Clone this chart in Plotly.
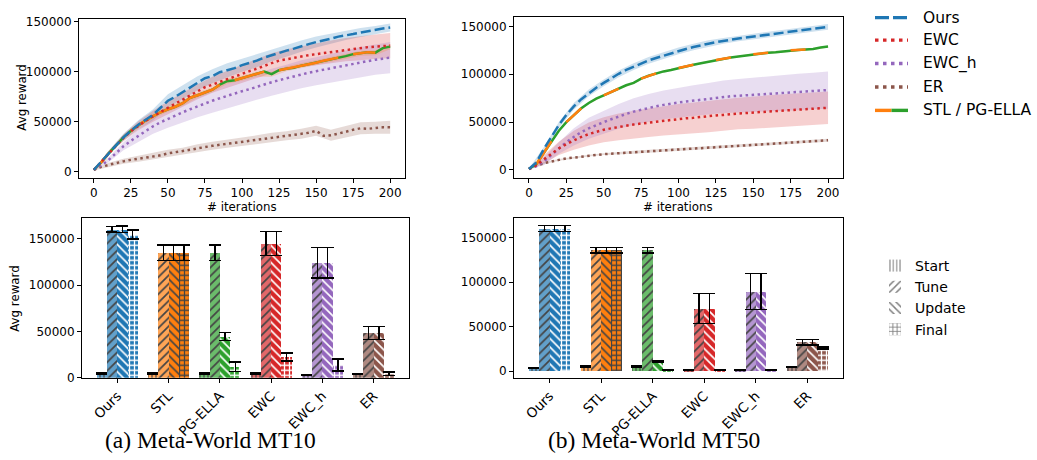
import plotly.graph_objects as go

# ---------------- data ----------------
iters = list(range(0, 201, 5))
band_iters = list(range(0, 201, 10))

# Meta-World MT10 learning curves (avg reward), every 5 iterations
mt10_ours = [2000, 10000, 19000, 27000, 34500, 41000, 47000, 52000, 57000, 64000, 71000,
             75000, 79500, 84000, 88500, 93500, 95500, 99500, 101500, 103500, 106500,
             108500, 111000, 114000, 116500, 119000, 121000, 123000, 125500, 127500, 129500,
             131000, 133000, 135000, 136000, 137500, 139000, 140500, 141500, 143000, 144000]
mt10_ewc = [2000, 10000, 19000, 27000, 34000, 40500, 46000, 51000, 55500, 60000, 64000,
            68000, 72000, 76000, 80000, 84500, 87000, 90000, 92500, 95000, 98000,
            100500, 103000, 106000, 108500, 111000, 112500, 114000, 115000, 116500, 117500,
            118500, 120000, 121000, 122000, 122500, 123500, 124500, 125000, 125500, 126000]
mt10_ewch = [2000, 6500, 12000, 19000, 25500, 31000, 36000, 41000, 45500, 49500, 53000,
             56500, 59500, 62500, 65500, 68500, 71000, 73500, 76000, 78500, 80500,
             82500, 85000, 87500, 89500, 91500, 93500, 95500, 97500, 99000, 100500,
             102000, 103500, 105000, 106500, 108000, 109500, 110500, 112000, 113000, 114000]
mt10_er = [2000, 5000, 7000, 9000, 10500, 12000, 13000, 14500, 15500, 16500, 18500,
           19500, 20500, 22000, 23500, 25000, 26000, 27000, 28000, 29000, 30000,
           31000, 32000, 33500, 34500, 35000, 36000, 37000, 38000, 39000, 41000,
           36000, 36500, 38000, 40000, 42000, 43500, 43000, 44000, 44500, 44500]
mt10_stl = [2000, 9500, 18500, 27000, 34500, 41000, 46500, 51500, 55500, 59500, 62500,
            65000, 68500, 74000, 76500, 79500, 82000, 87000, 90500, 91500, 93500,
            95500, 97500, 100000, 97500, 101500, 103000, 104000, 106000, 107500, 109000,
            111000, 112500, 114000, 115500, 117500, 118500, 119500, 119000, 123500, 125000]

mt10_ours_sd = [500, 2000, 3500, 4500, 5500, 6500, 7000, 7000, 7000, 7000, 6500,
                6500, 6000, 6000, 5500, 5500, 5000, 4500, 4500, 4000, 4000]
mt10_ewc_sd = [500, 2000, 3500, 4500, 5500, 6500, 7000, 7500, 8000, 8500, 9000,
               9500, 10000, 10000, 10500, 11000, 11000, 11500, 12000, 12000, 12500]
mt10_ewch_sd = [500, 2500, 4000, 6000, 7500, 9000, 10000, 11000, 12000, 12500, 13000,
                13000, 13500, 13500, 14000, 14000, 14500, 14500, 15000, 15000, 15500]
mt10_er_sd = [500, 2000, 2500, 3000, 3000, 3500, 3500, 4000, 4000, 4000, 4000,
              4500, 4500, 4500, 5000, 5000, 5500, 5500, 6000, 6000, 6500]
mt10_stl_sd = [500, 1500, 2000, 2000, 2500, 2500, 2500, 2500, 2500, 2500, 2500,
               2500, 2500, 2500, 2500, 2500, 2500, 2500, 2500, 2500, 2500]

# Meta-World MT50 learning curves
mt50_ours = [1000, 8000, 22000, 35000, 47000, 57500, 66500, 74000, 80500, 86000, 91000,
             96000, 100500, 104500, 108000, 111500, 114500, 117000, 119500, 122000, 124500,
             126500, 128500, 130500, 132000, 133500, 135000, 136500, 137500, 138500, 139500,
             140500, 141500, 142500, 143500, 144500, 145500, 146500, 147500, 148500, 149500]
mt50_ewc = [1000, 5000, 11000, 17000, 22500, 27000, 31000, 34500, 37500, 40000, 42000,
            43500, 45000, 46500, 47500, 48500, 49500, 50500, 51500, 52500, 53000,
            54000, 54500, 55500, 56000, 57000, 57500, 58500, 59000, 59500, 60000,
            60500, 61000, 61500, 62000, 62500, 63000, 63500, 64000, 64500, 65000]
mt50_ewch = [1000, 4000, 9000, 16000, 23000, 29000, 34500, 39500, 43500, 47000, 50000,
             53000, 56000, 58500, 61000, 63000, 65000, 66500, 68000, 69500, 70500,
             71500, 72500, 73500, 74500, 75500, 76500, 77000, 77500, 78000, 78500,
             79000, 79500, 80000, 80500, 81000, 81500, 82000, 82500, 83000, 83500]
mt50_er = [1000, 4500, 7000, 9000, 10500, 12000, 13000, 14000, 15000, 15500, 16500,
           17000, 17500, 18000, 18500, 19000, 19500, 20000, 20500, 21000, 21500,
           22000, 22500, 23000, 23500, 24000, 24500, 25000, 25500, 26000, 26500,
           27000, 27500, 28000, 28500, 29000, 29500, 30000, 30000, 30500, 31000]
mt50_stl = [1000, 6000, 18000, 30000, 41000, 50000, 57500, 64500, 70000, 74500, 78000,
            81500, 85000, 88500, 91000, 95500, 98500, 101000, 103000, 104500, 106500,
            108500, 110000, 111500, 113000, 115000, 116500, 117500, 118500, 119500, 121000,
            122000, 122500, 123000, 124000, 125000, 125500, 126000, 126500, 128000, 129000]

mt50_ours_sd = [500, 2000, 3000, 3500, 3500, 3500, 3500, 3500, 3500, 3500, 3500,
                3500, 3500, 3000, 3000, 3000, 3000, 3000, 3000, 3000, 3000]
mt50_ewc_sd = [500, 4000, 7000, 10000, 12000, 13000, 14000, 14500, 15000, 15500, 16000,
               16000, 16500, 16500, 16500, 17000, 17000, 17000, 17000, 17000, 17000]
mt50_ewch_sd = [500, 4000, 6000, 9000, 11000, 12000, 13000, 14000, 14500, 15000, 15500,
                16000, 16500, 17000, 17500, 18000, 18500, 18500, 19000, 19000, 19500]
mt50_er_sd = [300, 1000, 1000, 1000, 1000, 1000, 1500, 1500, 1500, 1500, 1500,
              1500, 1500, 1500, 1500, 1500, 1500, 1500, 1500, 1500, 1500]
mt50_stl_sd = [300, 1000, 1000, 1000, 1000, 1000, 1000, 1000, 1000, 1000, 1000,
               1000, 1000, 1000, 1000, 1000, 1000, 1000, 1000, 1000, 1000]

# iteration ranges where the STL (orange) curve is drawn above PG-ELLA (green)
mt10_stl_on_top = [(0, 10), (25, 40), (45, 60), (65, 85), (95, 115), (125, 145), (150, 165), (175, 190)]
mt50_stl_on_top = [(5, 15), (25, 35), (50, 60), (75, 85), (100, 110), (125, 135), (150, 160), (175, 185)]

# Bar-chart data
methods = ["Ours", "STL", "PG-ELLA", "EWC", "EWC_h", "ER"]
phases = ["Start", "Tune", "Update", "Final"]

mt10_start = [5000, 5000, 5000, 5000, 3000, 4000]
mt10_start_err = [600, 600, 600, 600, 600, 600]
mt10_tune = [160000, 135000, 135000, 145000, 124000, 48500]
mt10_tune_err = [3000, 8500, 8500, 13000, 16500, 7000]
mt10_update = [160000, 135000, 44500, 145000, 124000, 48500]
mt10_update_err = [3500, 8500, 4500, 13000, 16500, 7000]
mt10_final = [154500, 135000, 12000, 22500, 14000, 4500]
mt10_final_err = [5000, 8500, 5000, 4500, 6500, 2000]

mt50_start = [3000, 5000, 5000, 1500, 1000, 4500]
mt50_start_err = [400, 400, 400, 400, 400, 400]
mt50_tune = [160500, 136000, 136000, 70500, 89500, 32500]
mt50_tune_err = [3500, 3000, 3000, 17000, 20500, 3000]
mt50_update = [160500, 136000, 11000, 70500, 89500, 32500]
mt50_update_err = [3500, 3000, 1000, 17000, 20500, 3000]
mt50_final = [160500, 136000, 700, 700, 700, 26000]
mt50_final_err = [3500, 3000, 400, 400, 400, 1000]

# ---------------- styling ----------------
W, H = 1037, 460
C = {"blue": (31, 119, 180), "orange": (255, 127, 14), "green": (44, 160, 44),
     "red": (214, 39, 40), "purple": (148, 103, 189), "brown": (140, 86, 75)}
method_colors = ["blue", "orange", "green", "red", "purple", "brown"]


def rgba(name, a=1.0):
    r, g, b = C[name]
    return f"rgba({r},{g},{b},{a})"


def light(name, a):
    r, g, b = C[name]
    f = lambda v: round(v * a + 255 * (1 - a))
    return f"rgb({f(r)},{f(g)},{f(b)})"


def px(x):
    return x / W


def py(y):
    return 1 - y / H


FONT = "DejaVu Sans"
TICKF = dict(family=FONT, size=12, color="black")
CATF = dict(family=FONT, size=13.5, color="black")
DOT = "2.5px,3.5px"
DASH = "10px,4px"

fig = go.Figure()


def add_band(xa, ya, mean, sd, color):
    m = mean[::2]
    up = [a + b for a, b in zip(m, sd)]
    lo = [a - b for a, b in zip(m, sd)]
    fig.add_trace(go.Scatter(x=band_iters, y=up, mode="lines", line=dict(width=0),
                             xaxis=xa, yaxis=ya, showlegend=False, hoverinfo="skip"))
    fig.add_trace(go.Scatter(x=band_iters, y=lo, mode="lines", line=dict(width=0),
                             fill="tonexty", fillcolor=rgba(color, 0.22),
                             xaxis=xa, yaxis=ya, showlegend=False, hoverinfo="skip"))


def add_line(xa, ya, y, color, dash=None, width=2.5):
    fig.add_trace(go.Scatter(x=iters, y=y, mode="lines",
                             line=dict(color=rgba(color), width=width, dash=dash),
                             connectgaps=False, xaxis=xa, yaxis=ya, showlegend=False,
                             hoverinfo="skip"))


def masked(vals, ranges):
    return [v if any(a <= it <= b for a, b in ranges) else None for it, v in zip(iters, vals)]


def curve_panel(xa, ya, ours, ewc, ewch, er, stl, sds, on_top):
    ours_sd, ewc_sd, ewch_sd, er_sd, stl_sd = sds
    add_band(xa, ya, ours, ours_sd, "blue")
    add_band(xa, ya, ewc, ewc_sd, "red")
    add_band(xa, ya, ewch, ewch_sd, "purple")
    add_band(xa, ya, er, er_sd, "brown")
    add_band(xa, ya, stl, stl_sd, "orange")
    add_line(xa, ya, er, "brown", DOT)
    add_line(xa, ya, ewch, "purple", DOT)
    add_line(xa, ya, stl, "green")
    add_line(xa, ya, masked(stl, on_top), "orange")
    add_line(xa, ya, ewc, "red", DOT)
    add_line(xa, ya, ours, "blue", DASH)


curve_panel("x", "y", mt10_ours, mt10_ewc, mt10_ewch, mt10_er, mt10_stl,
            (mt10_ours_sd, mt10_ewc_sd, mt10_ewch_sd, mt10_er_sd, mt10_stl_sd), mt10_stl_on_top)
curve_panel("x2", "y2", mt50_ours, mt50_ewc, mt50_ewch, mt50_er, mt50_stl,
            (mt50_ours_sd, mt50_ewc_sd, mt50_ewch_sd, mt50_er_sd, mt50_stl_sd), mt50_stl_on_top)

# bars
offsets = [-0.3, -0.1, 0.1, 0.3]
shapes_ = ["|", "/", "\\", "+"]
sizes_ = [4, 6, 6, 5]
solid_ = [0.3, 0.28, 0.28, 0.45]
alphas = [0.7, 0.7, 1.0, 1.0]


def bar_panel(xa, ya, vals, errs):
    n = len(methods)
    for k in range(4):
        cols = [light(c, alphas[k]) for c in method_colors]
        fig.add_trace(go.Bar(
            x=[i + offsets[k] for i in range(n)], y=vals[k], width=0.2,
            marker=dict(color=cols, line=dict(width=0),
                        pattern=dict(shape=[shapes_[k]] * n, fgcolor=["black"] * n,
                                     bgcolor=cols, fgopacity=1,
                                     size=[sizes_[k]] * n, solidity=[solid_[k]] * n)),
            error_y=dict(type="data", array=errs[k], visible=True, color="black",
                         thickness=1.5, width=6),
            xaxis=xa, yaxis=ya, showlegend=False, hoverinfo="skip"))


bar_panel("x3", "y3", [mt10_start, mt10_tune, mt10_update, mt10_final],
          [mt10_start_err, mt10_tune_err, mt10_update_err, mt10_final_err])
bar_panel("x4", "y4", [mt50_start, mt50_tune, mt50_update, mt50_final],
          [mt50_start_err, mt50_tune_err, mt50_update_err, mt50_final_err])

# pattern legend entries (white background, black hatch)
leg_sizes = [4.2, 6.2, 6.2, 5.2]
leg_solid = [0.31, 0.29, 0.29, 0.41]
for k, name in enumerate(phases):
    fig.add_trace(go.Bar(x=[None], y=[None], name=name, legend="legend2",
                         marker=dict(color="white", line=dict(width=0),
                                     pattern=dict(shape=shapes_[k], fgcolor="black",
                                                  bgcolor="white", size=leg_sizes[k],
                                                  solidity=leg_solid[k])),
                         xaxis="x3", yaxis="y3", showlegend=True))

# ---------------- axes ----------------
common = dict(showline=True, linecolor="black", linewidth=1, mirror=True, ticks="outside",
              ticklen=4, tickwidth=1, tickcolor="black", showgrid=False, zeroline=False)
yfmt = dict(tickformat="d", separatethousands=False, exponentformat="none", tickfont=TICKF)

layout = dict(
    width=W, height=H, margin=dict(l=0, r=0, t=0, b=0),
    paper_bgcolor="white", plot_bgcolor="white", barmode="overlay", bargap=0,
    xaxis=dict(domain=[px(79), px(405)], range=[-10, 210], tickvals=list(range(0, 201, 25)),
               anchor="y", tickfont=TICKF, **common),
    yaxis=dict(domain=[py(178), py(15)], range=[-5844, 152922],
               tickvals=[0, 50000, 100000, 150000], anchor="x", **common, **yfmt),
    xaxis2=dict(domain=[px(514), px(843)], range=[-10, 210], tickvals=list(range(0, 201, 25)),
                anchor="y2", tickfont=TICKF, **common),
    yaxis2=dict(domain=[py(178), py(13)], range=[-8163, 160204],
                tickvals=[0, 50000, 100000, 150000], anchor="x2", **common, **yfmt),
    xaxis3=dict(domain=[px(82), px(409)], range=[-0.69, 5.69], tickvals=list(range(6)),
                ticktext=methods, tickangle=-45, anchor="y3", tickfont=CATF, **common),
    yaxis3=dict(domain=[py(383), py(219)], range=[0, 172600],
                tickvals=[0, 50000, 100000, 150000], anchor="x3", **common, **yfmt),
    xaxis4=dict(domain=[px(514), px(843)], range=[-0.69, 5.69], tickvals=list(range(6)),
                ticktext=methods, tickangle=-45, anchor="y4", tickfont=CATF, **common),
    yaxis4=dict(domain=[py(383), py(219)], range=[-7700, 172500],
                tickvals=[0, 50000, 100000, 150000], anchor="x4", **common, **yfmt),
    showlegend=True,
    legend2=dict(x=px(875), y=py(252), xanchor="left", yanchor="top",
                 font=dict(family=FONT, size=14, color="black"), bgcolor="rgba(0,0,0,0)",
                 tracegroupgap=0, itemwidth=30),
)
fig.update_layout(**layout)

# axis titles & captions
ann = []
lab = dict(family=FONT, size=11.8, color="black")
ann.append(dict(x=px(22), y=py(96), text="Avg reward", textangle=-90, font=lab))
ann.append(dict(x=px(15), y=py(302), text="Avg reward", textangle=-90, font=lab))
ann.append(dict(x=px(242), y=py(208), text="# iterations", font=lab))
ann.append(dict(x=px(678), y=py(208), text="# iterations", font=lab))
cap = dict(family="Liberation Serif", size=23.5, color="black")
ann.append(dict(x=px(210), y=py(447), text="(a) Meta-World MT10", font=cap))
ann.append(dict(x=px(654), y=py(447), text="(b) Meta-World MT50", font=cap))

# manual line legend (top right)
leg_rows = [("Ours", 14), ("EWC", 37), ("EWC_h", 61), ("ER", 85), ("STL / PG-ELLA", 109)]
shapes = []
x0, x1, xm = px(875), px(908), px(891.5)
LDOT = "3.5px,4.5px"
shapes.append(dict(type="line", xref="paper", yref="paper", x0=x0, x1=x1, y0=py(14), y1=py(14),
                   line=dict(color=rgba("blue"), width=3.4, dash="14px,4px")))
shapes.append(dict(type="line", xref="paper", yref="paper", x0=x0, x1=x1, y0=py(37), y1=py(37),
                   line=dict(color=rgba("red"), width=3.4, dash=LDOT)))
shapes.append(dict(type="line", xref="paper", yref="paper", x0=x0, x1=x1, y0=py(61), y1=py(61),
                   line=dict(color=rgba("purple"), width=3.4, dash=LDOT)))
shapes.append(dict(type="line", xref="paper", yref="paper", x0=x0, x1=x1, y0=py(85), y1=py(85),
                   line=dict(color=rgba("brown"), width=3.4, dash=LDOT)))
shapes.append(dict(type="line", xref="paper", yref="paper", x0=x0, x1=xm, y0=py(109), y1=py(109),
                   line=dict(color=rgba("orange"), width=3.4)))
shapes.append(dict(type="line", xref="paper", yref="paper", x0=xm, x1=x1, y0=py(109), y1=py(109),
                   line=dict(color=rgba("green"), width=3.4)))
for name, yy in leg_rows:
    ann.append(dict(x=px(921), y=py(yy), text=name, xanchor="left",
                    font=dict(family=FONT, size=15.5, color="black")))

for a in ann:
    a.setdefault("xref", "paper")
    a.setdefault("yref", "paper")
    a.setdefault("showarrow", False)
    a.setdefault("xanchor", "center")
    a.setdefault("yanchor", "middle")
fig.update_layout(annotations=ann, shapes=shapes)

fig.write_html("out.html", config={"displayModeBar": False},
               post_script="document.body.style.margin='0px';")
